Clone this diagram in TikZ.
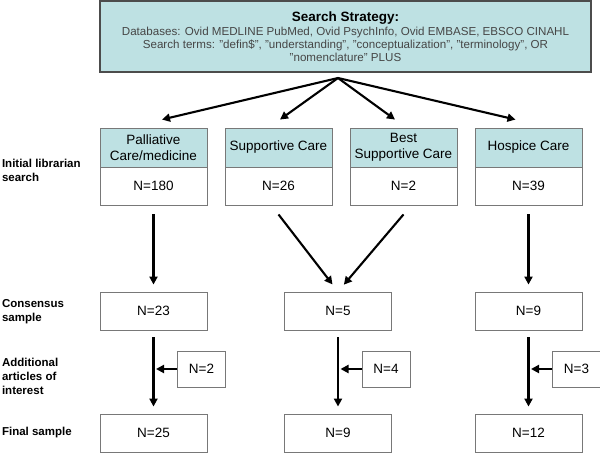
\documentclass[tikz,border=0pt]{standalone}
\usepackage{fontspec}
\setmainfont{Liberation Sans}
\usetikzlibrary{arrows.meta,positioning}
\definecolor{stratfill}{RGB}{190,225,227}
\definecolor{boxline}{RGB}{120,120,120}
\definecolor{bodygray}{RGB}{70,70,70}

\begin{document}
\begin{tikzpicture}[>={Triangle[length=8pt,width=8pt]}, x=1pt, y=-1pt, on grid, line width=2.1pt,
    box/.style={draw=boxline, line width=0.9pt, minimum width=107pt, align=center, inner sep=1pt, font=\fontsize{13.5}{16}\selectfont},
    head/.style={box, fill=stratfill, minimum height=39pt},
    count/.style={box, minimum height=38pt},
    extra/.style={box, minimum width=48pt, minimum height=36pt},
    side/.style={anchor=west, align=left, inner sep=0pt, font=\bfseries\fontsize{11.5}{14}\selectfont}]
  \useasboundingbox (0,0) rectangle (600,453);

  \node[draw=black!70, line width=1.2pt, fill=stratfill, minimum width=491pt, minimum height=71pt, align=center, text=bodygray, font=\fontsize{11.6}{12.8}\selectfont] (strat) at (345.5,36.5)
    {{\color{black}\bfseries\fontsize{13.5}{15}\selectfont Search Strategy:}\\[1.5pt]
     Databases: Ovid MEDLINE PubMed, Ovid PsychInfo, Ovid EMBASE, EBSCO CINAHL\\
     Search terms: "defin\$", "understanding", "conceptualization", "terminology", OR\\
     "nomenclature" PLUS};

  \node[head] (h_1) at (153.5,147.5) {Palliative\\Care/medicine};
  \node[head] (h_2) [right=125pt of h_1] {Supportive Care};
  \node[head] (h_3) [right=125pt of h_2] {Best\\Supportive Care};
  \node[head] (h_4) [right=125pt of h_3] {Hospice Care};

  \node[count] (n_1) [below=38.5pt of h_1] {N=180};
  \node[count] (n_2) [below=38.5pt of h_2] {N=26};
  \node[count] (n_3) [below=38.5pt of h_3] {N=2};
  \node[count] (n_4) [below=38.5pt of h_4] {N=39};

  \node[count] (c_1) [below=125pt of n_1] {N=23};
  \node[count] (c_2) at (338,311) {N=5};
  \node[count] (c_3) [below=125pt of n_4] {N=9};

  \node[extra] (a_1) [below right=58pt and 48pt of c_1] {N=2};
  \node[extra] (a_2) [below right=58pt and 48pt of c_2] {N=4};
  \node[extra] (a_3) [below right=58pt and 48pt of c_3] {N=3};

  \node[count] (f_1) [below=122pt of c_1] {N=25};
  \node[count] (f_2) [below=122pt of c_2] {N=9};
  \node[count] (f_3) [below=122pt of c_3] {N=12};

  % row labels
  \node[side] (l_1) at (1,170.5) {Initial librarian\\search};
  \node[side] (l_2) at (1,312) {Consensus\\sample};
  \node[side] (l_3) at (1,376) {Additional\\articles of\\interest};
  \node[side] (l_4) at (1,433) {Final sample};

  \coordinate (fan) at (338,78);
  \path[->] (fan) edge ([xshift=8.5pt,yshift=8pt]h_1.north)
                  edge ([xshift=1.5pt,yshift=8pt]h_2.north)
                  edge ([xshift=-8.5pt,yshift=8pt]h_3.north)
                  edge ([xshift=-13pt,yshift=8pt]h_4.north);

  \path[->] (n_1) edge [shorten <=9pt, shorten >=7pt] (c_1)
            ([yshift=-9pt]n_2.south) edge [shorten >=9pt] (c_2.north)
            ([yshift=-9pt]n_3.south) edge [shorten >=9pt] (c_2.north)
            (n_4) edge [shorten <=9pt, shorten >=7pt] (c_3);

  \path[->] (c_1) edge [shorten <=7pt, shorten >=7pt] (f_1)
            (c_2) edge [shorten <=7pt, shorten >=7pt] (f_2)
            (c_3) edge [shorten <=7pt, shorten >=7pt] (f_3);

  \path[->] (a_1) edge [shorten >=2.5pt] (a_1 -| c_1)
            (a_2) edge [shorten >=2.5pt] (a_2 -| c_2)
            (a_3) edge [shorten >=2.5pt] (a_3 -| c_3);
\end{tikzpicture}
\end{document}
